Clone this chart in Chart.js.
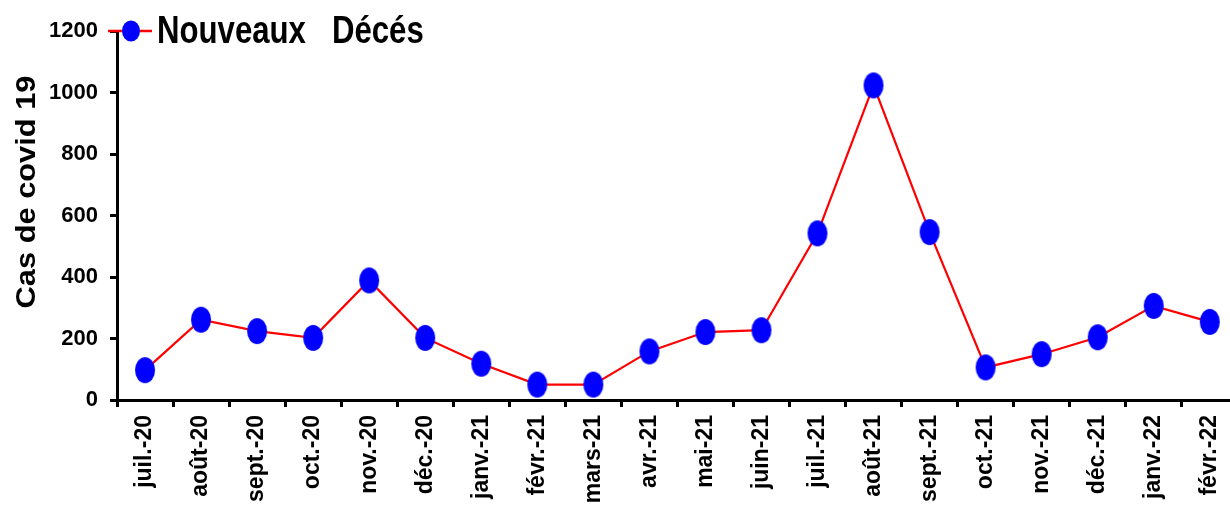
<!DOCTYPE html>
<html><head><meta charset="utf-8">
<script src="https://cdn.jsdelivr.net/npm/chart.js@4"></script>
<style>
html,body{margin:0;padding:0;overflow:hidden;background:#fff;}
#wrap{width:1251px;height:518px;position:relative;}
canvas{display:block;}
</style></head><body>
<div id="wrap"><canvas id="c" width="1251" height="518"></canvas></div>
<script>
const categories = ["juil.-20","août-20","sept.-20","oct.-20","nov.-20","déc.-20","janv.-21","févr.-21","mars-21","avr.-21","mai-21","juin-21","juil.-21","août-21","sept.-21","oct.-21","nov.-21","déc.-21","janv.-22","févr.-22"];
const deaths = [97,261,224,202,389,202,118,50,50,158,221,227,542,1023,546,106,149,204,306,254];
const yTicks = [0,200,400,600,800,1000,1200];
const seriesLabel = "Nouveaux   Décés";
const yTitle = "Cas de covid 19";

const lineColor = "#ff0000";
const markerColor = "#0000ff";

function ellipseImage(w, h, color){
  const c = document.createElement('canvas');
  c.width = w; c.height = h;
  const x = c.getContext('2d');
  x.fillStyle = color;
  x.beginPath();
  x.ellipse(w/2, h/2, w/2 - 1, h/2 - 1, 0, 0, Math.PI*2);
  x.fill();
  return c;
}
const markerImg = ellipseImage(22, 28, markerColor);

const overlayPlugin = {
  id: 'overlay',
  afterDraw(chart){
    const ctx = chart.ctx;
    const ds = chart.data.datasets[0];
    ctx.save();
    // legend
    ctx.strokeStyle = ds.borderColor;
    ctx.lineWidth = 2.5;
    ctx.beginPath(); ctx.moveTo(108, 31); ctx.lineTo(152, 31); ctx.stroke();
    ctx.fillStyle = markerColor;
    ctx.beginPath(); ctx.ellipse(131, 31, 9, 10.5, 0, 0, Math.PI*2); ctx.fill();
    ctx.fillStyle = '#000';
    ctx.font = 'bold 38px "Liberation Sans", Arial, sans-serif';
    ctx.textBaseline = 'alphabetic';
    ctx.textAlign = 'left';
    ctx.save();
    ctx.translate(157, 43);
    ctx.scale(0.82, 1);
    ctx.fillText(ds.label, 0, 0);
    ctx.restore();
    // y title
    ctx.save();
    ctx.font = 'bold 28px "Liberation Sans", Arial, sans-serif';
    ctx.translate(35, 192);
    ctx.rotate(-Math.PI/2);
    ctx.scale(1.1, 1);
    ctx.textAlign = 'center';
    ctx.fillText(yTitle, 0, 0);
    ctx.restore();
    ctx.restore();
  }
};

new Chart(document.getElementById('c'), {
  type: 'line',
  data: {
    labels: categories,
    datasets: [{
      label: seriesLabel,
      data: deaths,
      borderColor: lineColor,
      borderWidth: 2.2,
      backgroundColor: markerColor,
      pointStyle: markerImg,
      pointRadius: 11,
      tension: 0,
      clip: false
    }]
  },
  options: {
    responsive: false,
    animation: false,
    layout: { padding: { top: 31, right: 3, left: 0, bottom: 0 } },
    plugins: { legend: { display: false }, tooltip: { enabled: false } },
    scales: {
      x: {
        offset: true,
        grid: { display: true, drawOnChartArea: false, drawTicks: true, tickLength: 7, color: '#000', lineWidth: 3, offset: true },
        border: { display: true, color: '#000', width: 3 },
        ticks: {
          autoSkip: false, maxRotation: 90, minRotation: 90, padding: 8,
          color: '#000',
          font: { family: '"Liberation Sans", Arial, sans-serif', size: 23, weight: 'bold' }
        },
        afterFit(s){ s.height = 118; }
      },
      y: {
        min: 0, max: 1200,
        afterBuildTicks(s){ s.ticks = yTicks.map(v => ({ value: v })); },
        grid: { display: true, drawOnChartArea: false, drawTicks: true, tickLength: 7, color: '#000', lineWidth: 3 },
        border: { display: true, color: '#000', width: 3 },
        ticks: {
          padding: 12, color: '#000',
          callback: v => String(v),
          font: { family: '"Liberation Sans", Arial, sans-serif', size: 22, weight: 'bold' }
        },
        afterFit(s){ s.width = 117; }
      }
    }
  },
  plugins: [overlayPlugin]
});
</script>
</body></html>
